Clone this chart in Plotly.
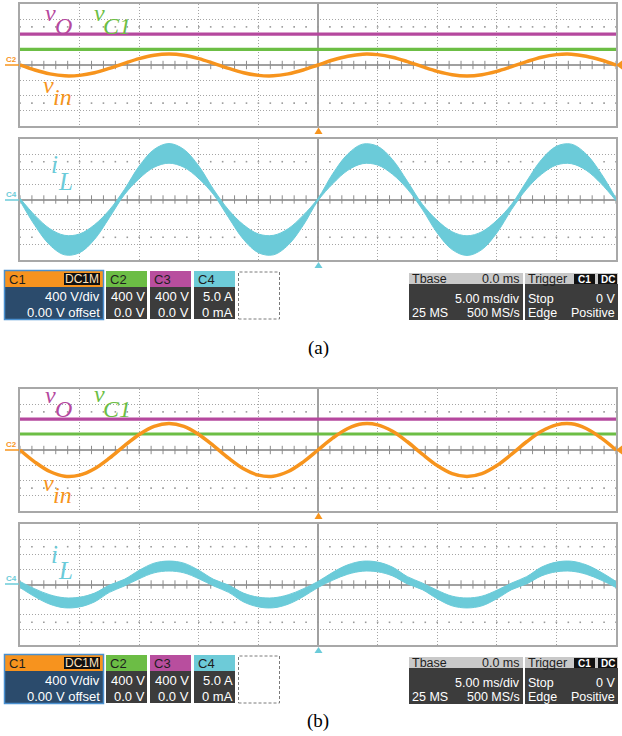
import plotly.graph_objects as go

W, H = 622, 736

# ---------------- data (values in scope divisions, time in ms) ----------------
t_ms = [-25.0, -23.75, -22.5, -21.25, -20.0, -18.75, -17.5, -16.25, -15.0, -13.75,
        -12.5, -11.25, -10.0, -8.75, -7.5, -6.25, -5.0, -3.75, -2.5, -1.25,
        0.0, 1.25, 2.5, 3.75, 5.0, 6.25, 7.5, 8.75, 10.0, 11.25,
        12.5, 13.75, 15.0, 16.25, 17.5, 18.75, 20.0, 21.25, 22.5, 23.75, 25.0]

# (a) voltages
vO_a_t = [-25.0, 25.0]
vO_a = [2.03, 2.03]
vC1_a = [1.03, 1.03]
vin_a = [0.00, -0.33, -0.58, -0.71, -0.68, -0.51, -0.22, 0.11, 0.42, 0.64,
         0.72, 0.64, 0.42, 0.11, -0.22, -0.51, -0.68, -0.71, -0.58, -0.33,
         0.00, 0.33, 0.58, 0.71, 0.68, 0.51, 0.22, -0.11, -0.42, -0.64,
         -0.72, -0.64, -0.42, -0.11, 0.22, 0.51, 0.68, 0.71, 0.58, 0.33, 0.00]

# (a) inductor current band (upper / lower envelope)
iL_a_hi = [0.08, -1.05, -1.93, -2.37, -2.28, -1.67, -0.69, 0.65, 2.21, 3.31,
           3.70, 3.31, 2.21, 0.65, -0.69, -1.67, -2.28, -2.37, -1.93, -1.05,
           0.08, 1.72, 3.01, 3.66, 3.52, 2.64, 1.20, -0.31, -1.38, -2.13,
           -2.40, -2.13, -1.38, -0.31, 1.20, 2.64, 3.52, 3.66, 3.01, 1.72, 0.08]
iL_a_lo = [-0.08, -1.72, -3.01, -3.66, -3.52, -2.64, -1.20, 0.31, 1.38, 2.13,
           2.40, 2.13, 1.38, 0.31, -1.20, -2.64, -3.52, -3.66, -3.01, -1.72,
           -0.08, 1.05, 1.93, 2.37, 2.28, 1.67, 0.69, -0.65, -2.21, -3.31,
           -3.70, -3.31, -2.21, -0.65, 0.69, 1.67, 2.28, 2.37, 1.93, 1.05, -0.08]

# (b) voltages
vO_b = [2.03, 2.03]
vC1_b = [1.05, 1.05]
vin_b = [0.00, -0.79, -1.41, -1.72, -1.65, -1.23, -0.54, 0.27, 1.02, 1.55,
         1.74, 1.55, 1.02, 0.27, -0.54, -1.23, -1.65, -1.72, -1.41, -0.79,
         0.00, 0.79, 1.41, 1.72, 1.65, 1.23, 0.54, -0.27, -1.02, -1.55,
         -1.74, -1.55, -1.02, -0.27, 0.54, 1.23, 1.65, 1.72, 1.41, 0.79, 0.00]

# (b) inductor current band
iL_b_hi = [0.20, -0.29, -0.68, -0.88, -0.84, -0.57, -0.04, 0.34, 0.94, 1.41,
           1.55, 1.41, 0.94, 0.34, -0.04, -0.57, -0.84, -0.88, -0.68, -0.29,
           0.20, 0.81, 1.30, 1.54, 1.48, 1.15, 0.52, 0.10, -0.38, -0.77,
           -0.89, -0.77, -0.38, 0.10, 0.52, 1.15, 1.48, 1.54, 1.30, 0.81, 0.20]
iL_b_lo = [-0.20, -0.81, -1.30, -1.54, -1.48, -1.15, -0.52, -0.10, 0.38, 0.77,
           0.89, 0.77, 0.38, -0.10, -0.52, -1.15, -1.48, -1.54, -1.30, -0.81,
           -0.20, 0.29, 0.68, 0.88, 0.84, 0.57, 0.04, -0.34, -0.94, -1.41,
           -1.55, -1.41, -0.94, -0.34, 0.04, 0.57, 0.84, 0.88, 0.68, 0.29, -0.20]

# info-bar texts
ch_scale = ["400 V/div", "400 V", "400 V", "5.0 A"]
ch_offset = ["0.00 V offset", "0.0 V", "0.0 V", "0 mA"]
tbase_vals = ["0.0 ms", "5.00 ms/div", "25 MS", "500 MS/s"]
trig_vals = ["Stop", "0 V", "Edge", "Positive"]

# ---------------- styling ----------------
C_OR = "#F7941D"
C_MG = "#B5489E"
C_GR = "#6CBE45"
C_CY = "#6BCBD9"
GRID = "#a4a4a4"
SERIF = "Liberation Serif, Times New Roman, serif"
SANS = "Liberation Sans, Arial, sans-serif"

def px(x):
    return x / W

def py(y):
    return 1 - y / H

panels = [("x", "y", 4, 126), ("x2", "y2", 139, 260),
          ("x3", "y3", 389, 511), ("x4", "y4", 524, 645)]

fig = go.Figure()
layout = {}
div_ticks = [-25 + k for k in range(51)]
for i, (xa, ya, top, bot) in enumerate(panels):
    xname = "xaxis" if i == 0 else f"xaxis{i+1}"
    yname = "yaxis" if i == 0 else f"yaxis{i+1}"
    common = dict(showgrid=True, gridcolor=GRID, griddash="1px,2px", gridwidth=1,
                  zeroline=True, zerolinecolor="#a0a0a0", zerolinewidth=1.5,
                  showline=True, mirror=True, linecolor="#a8a8a8", linewidth=2,
                  showticklabels=False, ticks="", fixedrange=True)
    layout[xname] = dict(domain=[px(20), px(616)], range=[-25, 25], tick0=0, dtick=5,
                         anchor=ya, **common)
    layout[yname] = dict(domain=[py(bot), py(top)], range=[-4, 4], tick0=0, dtick=1,
                         anchor=xa, **common)
    # centre-line minor ticks
    fig.add_trace(go.Scatter(x=div_ticks, y=[0] * len(div_ticks), xaxis=xa, yaxis=ya,
                             mode="markers", hoverinfo="skip",
                             marker=dict(symbol="line-ns", size=6,
                                         line=dict(width=1, color="#8c8c8c"))))
    # sparse dotted rows at +-2.5 div
    for yy in (2.5, -2.5):
        fig.add_trace(go.Scatter(x=div_ticks, y=[yy] * len(div_ticks), xaxis=xa, yaxis=ya,
                                 mode="markers", hoverinfo="skip",
                                 marker=dict(symbol="square", size=1.6, color="#9a9a9a",
                                             line=dict(width=0))))

def volt_panel(xa, ya, vO, vC1, vin):
    fig.add_trace(go.Scatter(x=vO_a_t, y=vO, xaxis=xa, yaxis=ya, mode="lines",
                             line=dict(color=C_MG, width=3.2)))
    fig.add_trace(go.Scatter(x=vO_a_t, y=vC1, xaxis=xa, yaxis=ya, mode="lines",
                             line=dict(color=C_GR, width=3.2)))
    fig.add_trace(go.Scatter(x=t_ms, y=vin, xaxis=xa, yaxis=ya, mode="lines",
                             line=dict(color=C_OR, width=3.5, shape="spline")))

def cur_panel(xa, ya, lo, hi):
    fig.add_trace(go.Scatter(x=t_ms, y=lo, xaxis=xa, yaxis=ya, mode="lines",
                             line=dict(color=C_CY, width=1, shape="spline")))
    fig.add_trace(go.Scatter(x=t_ms, y=hi, xaxis=xa, yaxis=ya, mode="lines",
                             fill="tonexty", fillcolor=C_CY,
                             line=dict(color=C_CY, width=1, shape="spline")))

volt_panel("x", "y", vO_a, vC1_a, vin_a)
cur_panel("x2", "y2", iL_a_lo, iL_a_hi)
volt_panel("x3", "y3", vO_b, vC1_b, vin_b)
cur_panel("x4", "y4", iL_b_lo, iL_b_hi)

shapes = []
annotations = []

def rect(x0, y0, x1, y1, fill=None, line=None, lw=0, dash=None):
    d = dict(type="rect", xref="paper", yref="paper",
             x0=px(x0), x1=px(x1), y0=py(y1), y1=py(y0), layer="above")
    if fill:
        d["fillcolor"] = fill
    ld = dict(width=lw)
    if line:
        ld["color"] = line
    if dash:
        ld["dash"] = dash
    d["line"] = ld
    shapes.append(d)

def text(x, y, s, size=13, color="white", family=SANS, xanchor="center", bold=False):
    if bold:
        s = f"<b>{s}</b>"
    annotations.append(dict(x=px(x), y=py(y), xref="paper", yref="paper", text=s,
                            showarrow=False, xanchor=xanchor, yanchor="middle",
                            borderpad=0,
                            font=dict(size=size, color=color, family=family)))

def tri_up(cx, ytop, ybot, color, half=4):
    path = (f"M {px(cx - half)},{py(ybot)} L {px(cx + half)},{py(ybot)} "
            f"L {px(cx)},{py(ytop)} Z")
    shapes.append(dict(type="path", xref="paper", yref="paper", path=path,
                       fillcolor=color, line=dict(width=0), layer="above"))

def bar(y0):
    # C1 box
    rect(5, y0, 103, y0 + 16, fill="#F7931E")
    rect(5, y0 + 16, 103, y0 + 48, fill="#2B4B6C")
    rect(4.5, y0 - 0.5, 103.5, y0 + 48.5, line="#4A90D0", lw=1.5)
    rect(64, y0 + 2, 100, y0 + 14, fill="#111111")
    text(8, y0 + 8, "C1", color="#1e1e1e", xanchor="left")
    text(82, y0 + 8, "DC1M", size=12, color="#FFE3BF")
    text(101, y0 + 25, ch_scale[0], xanchor="right")
    text(101, y0 + 41, ch_offset[0], xanchor="right")
    boxes = [(106, 147, "#6CBD45", "C2"), (150, 191, "#B84E9E", "C3"),
             (194, 235, "#6DCBD8", "C4")]
    for j, (xa0, xa1, col, lab) in enumerate(boxes):
        rect(xa0, y0, xa1, y0 + 16, fill=col)
        rect(xa0, y0 + 16, xa1, y0 + 48, fill="#3C3C3C")
        text(xa0 + 3, y0 + 8, lab, color="#1e1e1e", xanchor="left")
        text(xa1 - 1, y0 + 25, ch_scale[j + 1], xanchor="right")
        text(xa1 - 1, y0 + 41, ch_offset[j + 1], xanchor="right")
    rect(238.5, y0 + 1, 279.5, y0 + 48, line="#7a7a7a", lw=1, dash="3px,2px")
    # Tbase
    rect(409, y0 + 2, 523, y0 + 13, fill="#C9C9C9")
    rect(409, y0 + 13, 523, y0 + 49, fill="#3C3C3C")
    text(411, y0 + 7.5, "Tbase", size=12.5, color="#1e1e1e", xanchor="left")
    text(521, y0 + 7.5, tbase_vals[0], size=12.5, color="#1e1e1e", xanchor="right")
    text(521, y0 + 27.5, tbase_vals[1], size=12.5, xanchor="right")
    text(411, y0 + 42, tbase_vals[2], size=12.5, xanchor="left")
    text(521, y0 + 42, tbase_vals[3], size=12.5, xanchor="right")
    # Trigger
    rect(525, y0 + 2, 618, y0 + 13, fill="#C9C9C9")
    rect(525, y0 + 13, 618, y0 + 49, fill="#3C3C3C")
    text(527, y0 + 7.5, "Trigger", size=12.5, color="#1e1e1e", xanchor="left")
    rect(574, y0 + 3, 595, y0 + 13, fill="#111111")
    rect(598, y0 + 3, 617, y0 + 13, fill="#111111")
    text(584.5, y0 + 8, "C1", size=10, bold=True)
    text(607.5, y0 + 8, "DC", size=10, bold=True)
    text(527, y0 + 27.5, trig_vals[0], size=12.5, xanchor="left")
    text(616, y0 + 27.5, trig_vals[1], size=12.5, xanchor="right")
    text(527, y0 + 42, trig_vals[2], size=12.5, xanchor="left")
    text(616, y0 + 42, trig_vals[3], size=12.5, xanchor="right")

bar(271)
bar(655)

# trigger position markers
tri_up(318.5, 127.5, 134, C_OR)
tri_up(318.5, 262, 268, C_CY)
tri_up(318.5, 512.5, 519, C_OR)
tri_up(318.5, 647, 653, C_CY)

# channel ground markers at left
for (yl, lab, col) in [(65, "C2", C_OR), (200, "C4", C_CY), (450, "C2", C_OR), (584, "C4", C_CY)]:
    shapes.append(dict(type="line", xref="paper", yref="paper", x0=px(5), x1=px(19),
                       y0=py(yl), y1=py(yl), line=dict(color=col, width=1.5), layer="above"))
    text(11.5, yl - 6, lab, size=8, color=col, bold=True)

# right-edge markers for vin
for yl in (65, 450):
    shapes.append(dict(type="path", xref="paper", yref="paper",
                       path=f"M {px(616)},{py(yl)} L {px(622)},{py(yl - 4.5)} L {px(622)},{py(yl + 4.5)} Z",
                       fillcolor=C_OR, line=dict(width=0), layer="above"))

# waveform labels
def wlabel(x, y, s, color, size=24):
    text(x, y, f"<i>{s}</i>", size=size, color=color, family=SERIF)

wlabel(50, 12.5, "v", C_MG)
wlabel(63, 26.5, "O", C_MG)
wlabel(99.5, 12.5, "v", C_GR)
wlabel(117, 26.5, "C1", C_GR)
wlabel(48.5, 85, "v", C_OR)
wlabel(62.5, 97, "in", C_OR)
wlabel(54.5, 164, "i", C_CY, size=25)
wlabel(65.5, 181.5, "L", C_CY, size=25)

wlabel(50, 395, "v", C_MG)
wlabel(63, 409, "O", C_MG)
wlabel(99.5, 393.5, "v", C_GR)
wlabel(117, 408.5, "C1", C_GR)
wlabel(48, 483, "v", C_OR)
wlabel(62.5, 495, "in", C_OR)
wlabel(54.5, 554, "i", C_CY, size=25)
wlabel(65.5, 570, "L", C_CY, size=25)

# captions
text(318, 348, "(a)", size=19, color="black", family=SERIF)
text(318, 721, "(b)", size=19, color="black", family=SERIF)

fig.update_layout(width=W, height=H, margin=dict(l=0, r=0, t=0, b=0),
                  paper_bgcolor="white", plot_bgcolor="white", showlegend=False,
                  shapes=shapes, annotations=annotations, **layout)
fig.write_html("out.html", config={"displayModeBar": False},
               post_script="document.body.style.margin='0px';")
